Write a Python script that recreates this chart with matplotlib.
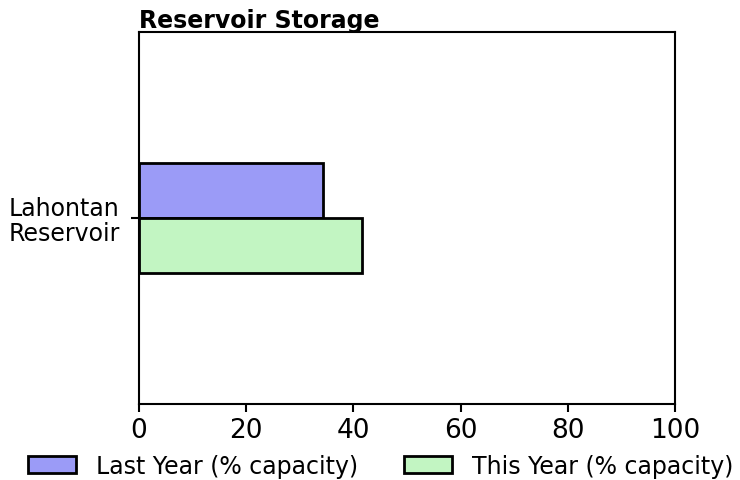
import matplotlib
matplotlib.use("Agg")
import matplotlib.pyplot as plt
import numpy as np

categories = ["Lahontan\nReservoir"]
last_year = [34.3]
this_year = [41.6]
series_labels = ["Last Year (% capacity)", "This Year (% capacity)"]
xticks = [0, 20, 40, 60, 80, 100]
title = "Reservoir Storage"

fig = plt.figure(figsize=(7.4, 4.81), dpi=100)
ax = fig.add_axes([139/740, 1-405/481, (675-139)/740, (405-33)/481])

y = np.arange(len(categories))
h = 0.4
ax.barh(y - h/2, last_year, height=h, color="#9b9bf7", edgecolor="black", linewidth=2, label=series_labels[0])
ax.barh(y + h/2, this_year, height=h, color="#c2f5c2", edgecolor="black", linewidth=2, label=series_labels[1])
ax.set_ylim(1.365, -1.365)
ax.set_xlim(0, 100)
ax.set_xticks(xticks)
ax.set_xticklabels([str(t) for t in xticks], fontsize=19)
ax.set_yticks(y)
ax.set_yticklabels(categories, fontsize=17, linespacing=1.05)
ax.tick_params(axis="both", length=6, width=1.5)
ax.tick_params(axis="y", pad=8)
for s in ax.spines.values():
    s.set_linewidth(1.5)
ax.set_title(title, loc="left", fontsize=17, fontweight="bold", pad=1)
fig.legend(loc="lower center", ncol=2, frameon=False, fontsize=17,
           bbox_to_anchor=(0.514, -0.04), handlelength=2.03, handleheight=0.75,
           handletextpad=0.85, columnspacing=1.95)
fig.savefig("out.png", dpi=100)
